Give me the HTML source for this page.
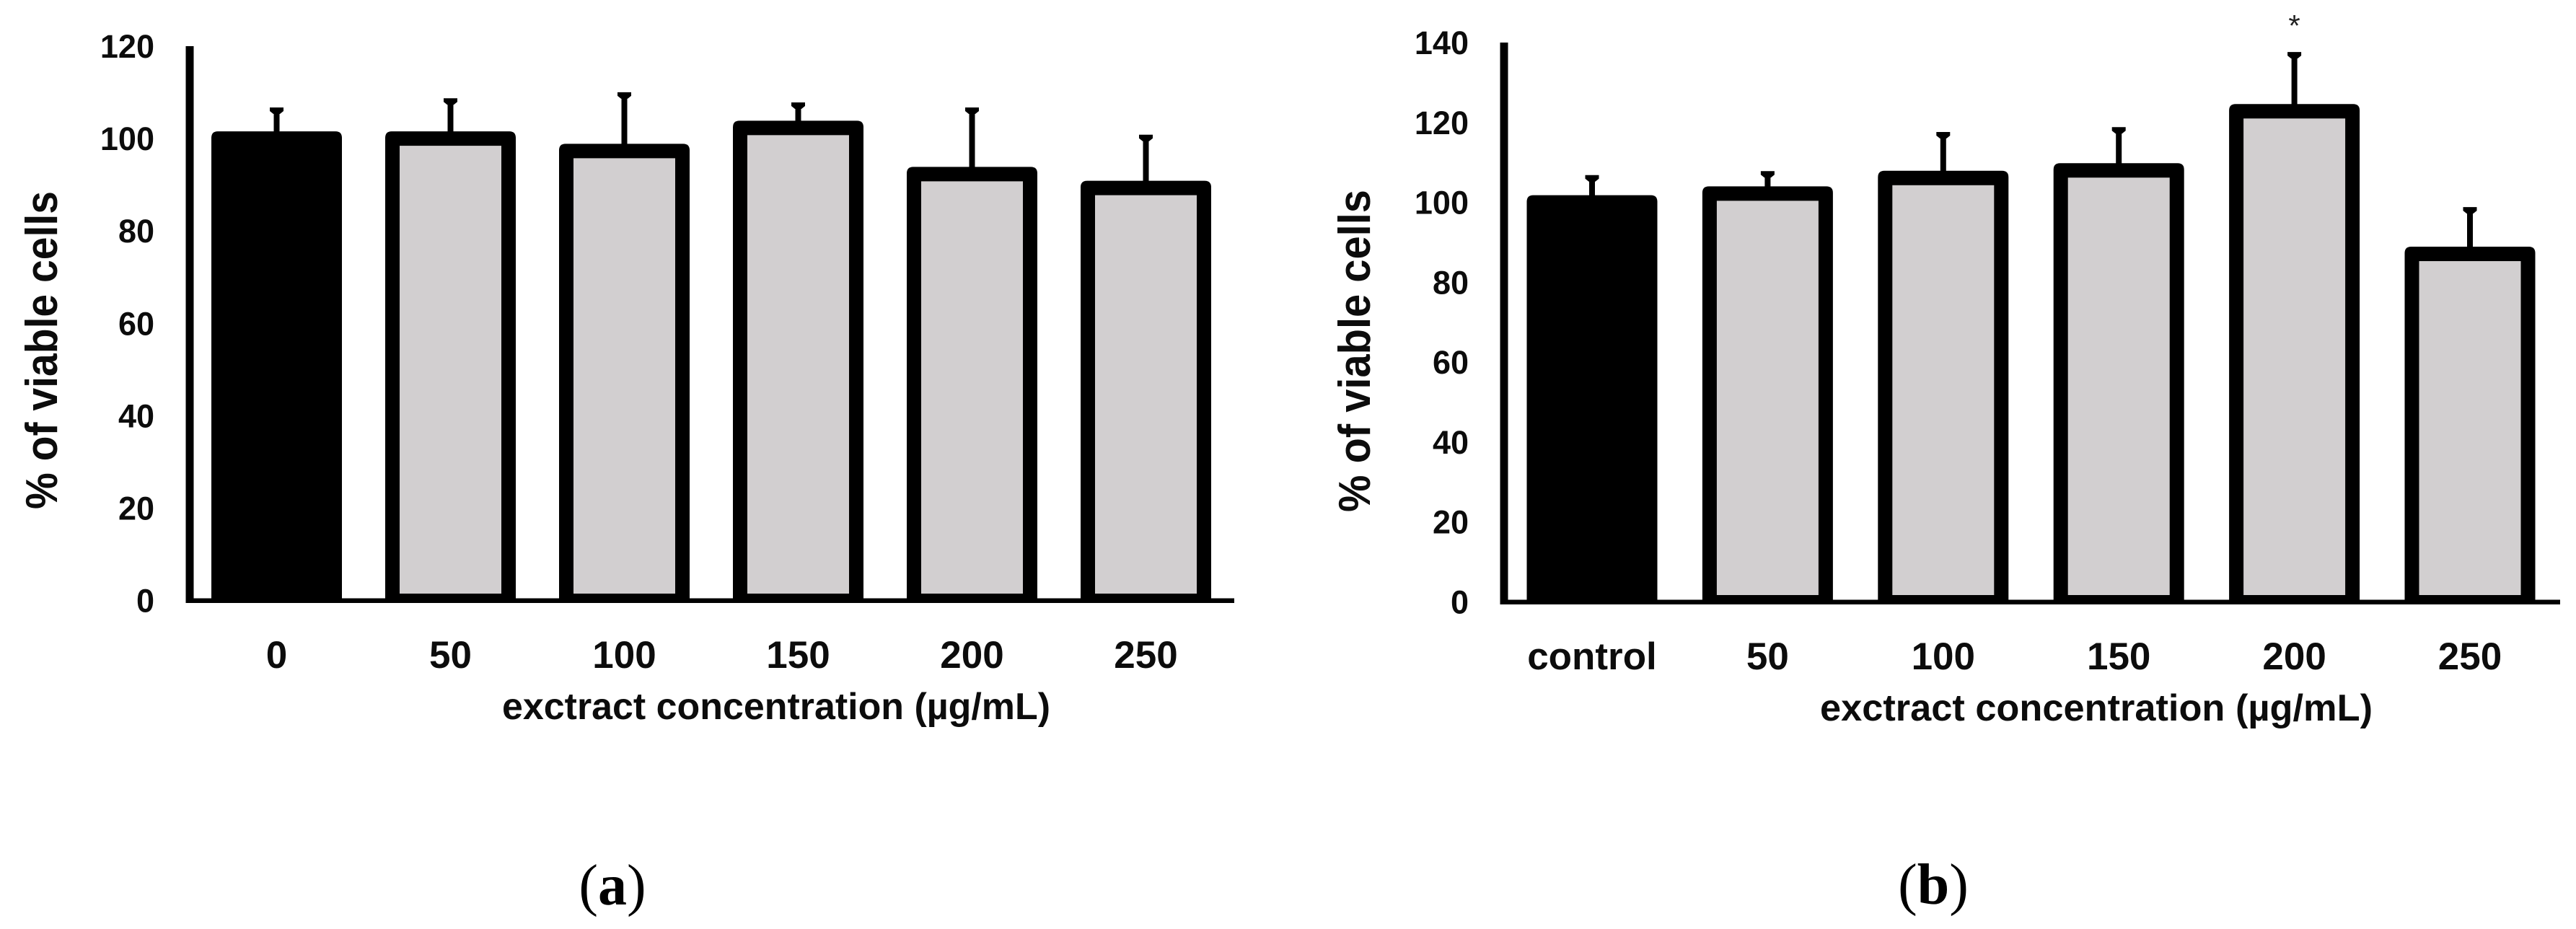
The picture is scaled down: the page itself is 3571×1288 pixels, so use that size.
<!DOCTYPE html>
<html lang="en">
<head>
<meta charset="utf-8">
<title>Cell viability vs extract concentration</title>
<style>
html,body{margin:0;padding:0;background:#fff;width:3571px;height:1288px;overflow:hidden}
svg{display:block}
.tick{font-family:"Liberation Sans",sans-serif;font-weight:700;fill:#0c0c0c}
.title{font-family:"Liberation Sans",sans-serif;font-weight:700;fill:#0c0c0c}
.panel{font-family:"Liberation Serif",serif;font-size:80px;fill:#000}
</style>
</head>
<body>
<svg id="figure" xmlns="http://www.w3.org/2000/svg" width="3571" height="1288" viewBox="0 0 3571 1288">
  <rect x="0" y="0" width="3571" height="1288" fill="#ffffff"/>
  <g id="chart-a"></g>
  <g id="chart-b"></g>

  <text class="title" font-size="62" text-anchor="middle" transform="translate(79 485.5) rotate(-90)" textLength="441" lengthAdjust="spacingAndGlyphs">% of viable cells</text>
  <text class="title" font-size="52" x="696" y="997" textLength="760" lengthAdjust="spacingAndGlyphs">exctract concentration (µg/mL)</text>
  <text class="panel" text-anchor="middle" x="849" y="1254">(<tspan font-weight="700">a</tspan>)</text>

  <text class="title" font-size="62" text-anchor="middle" transform="translate(1899 486.5) rotate(-90)" textLength="447" lengthAdjust="spacingAndGlyphs">% of viable cells</text>
  <text class="title" font-size="52" x="2523" y="999" textLength="766" lengthAdjust="spacingAndGlyphs">exctract concentration (µg/mL)</text>
  <text class="panel" text-anchor="middle" x="2680" y="1253">(<tspan font-weight="700">b</tspan>)</text>
</svg>
<script>
var categoriesA = ['0', '50', '100', '150', '200', '250'];
var valuesA = [100, 100, 97.3, 102.3, 92.3, 89.3];
var errorsA = [6.1, 8.1, 12.1, 4.9, 13.8, 10.9];
var yTicksA = [0, 20, 40, 60, 80, 100, 120];

var categoriesB = ['control', '50', '100', '150', '200', '250'];
var valuesB = [100, 102.2, 106.1, 108, 122.8, 87.1];
var errorsB = [6.1, 4.9, 10.8, 10.1, 14.1, 11];
var yTicksB = [0, 20, 40, 60, 80, 100, 120, 140];
var significantB = ['', '', '', '', '*', ''];

var SVG_NS = 'http://www.w3.org/2000/svg';

function mk(tag, attrs, parent) {
  var el = document.createElementNS(SVG_NS, tag);
  for (var k in attrs) { el.setAttribute(k, attrs[k]); }
  parent.appendChild(el);
  return el;
}

function drawChart(root, cfg, categories, values, errors, ticks, marks) {
  var maxTick = ticks[ticks.length - 1];
  var yScale = function (v) { return cfg.y0 - (v / maxTick) * (cfg.y0 - cfg.yTop); };
  var xScale = function (i) { return cfg.xFirst + i * cfg.step; };

  ticks.forEach(function (t) {
    var label = mk('text', {'class': 'tick', 'font-size': 45, 'text-anchor': 'end', x: cfg.tickRight, y: yScale(t) + 16}, root);
    
    
    label.textContent = String(t);
  });

  categories.forEach(function (c, i) {
    var cx = xScale(i);
    var v = values[i];
    var top = yScale(v + errors[i]) - 4;
    var outerTop = yScale(v) - 10;
    var outerBottom = cfg.y0 + 3;

    var stem = mk('rect', {x: cx - 4, y: top + 4, width: 8, height: outerTop - top, fill: '#000'}, root);
    
    

    var cap = mk('path', {d: 'M' + (cx - 9.5) + ' ' + top + 'h19v5l-5 4h-9l-5-4z', fill: '#000'}, root);
    
    

    var outline = mk('path', {
      d: 'M' + (cx - 90.5) + ' ' + outerBottom +
         'V' + (outerTop + 9) + 'Q' + (cx - 90.5) + ' ' + outerTop + ' ' + (cx - 81.5) + ' ' + outerTop +
         'H' + (cx + 81.5) + 'Q' + (cx + 90.5) + ' ' + outerTop + ' ' + (cx + 90.5) + ' ' + (outerTop + 9) +
         'V' + outerBottom + 'Z',
      fill: '#000000'
    }, root);
    
    

    if (i > 0) {
      var innerTop = yScale(v) + 10;
      var fill = mk('rect', {x: cx - 70.5, y: innerTop, width: 141, height: cfg.y0 - 9.5 - innerTop, fill: '#d2cfd0'}, root);
      
      
    }

    var label = mk('text', {'class': 'tick', 'font-size': 53, 'text-anchor': 'middle', x: cx, y: cfg.xLabelY}, root);
    
    
    label.textContent = c;

    if (marks && marks[i]) {
      var star = mk('text', {'font-family': '"Liberation Sans",sans-serif', 'font-size': 42, 'text-anchor': 'middle', fill: '#222', x: cx, y: top - 22}, root);
      
      
      star.textContent = marks[i];
    }
  });

  var yAxis = mk('rect', {x: cfg.axisX - 5.5, y: cfg.yTop, width: 11, height: cfg.y0 - cfg.yTop + 3, fill: '#000'}, root);
  
  

  var xAxis = mk('rect', {x: cfg.axisX - 5.5, y: cfg.y0 - 3, width: cfg.axisEnd - cfg.axisX + 5.5, height: 6.5, fill: '#000'}, root);
  
  
}

drawChart(document.getElementById('chart-a'),
  {y0: 832.5, yTop: 64, xFirst: 383.5, step: 241, tickRight: 214, xLabelY: 926, axisX: 263, axisEnd: 1711},
  categoriesA, valuesA, errorsA, yTicksA, null);

drawChart(document.getElementById('chart-b'),
  {y0: 834.5, yTop: 59, xFirst: 2207, step: 243.4, tickRight: 2036, xLabelY: 928, axisX: 2085, axisEnd: 3549},
  categoriesB, valuesB, errorsB, yTicksB, significantB);
</script>
</body>
</html>
